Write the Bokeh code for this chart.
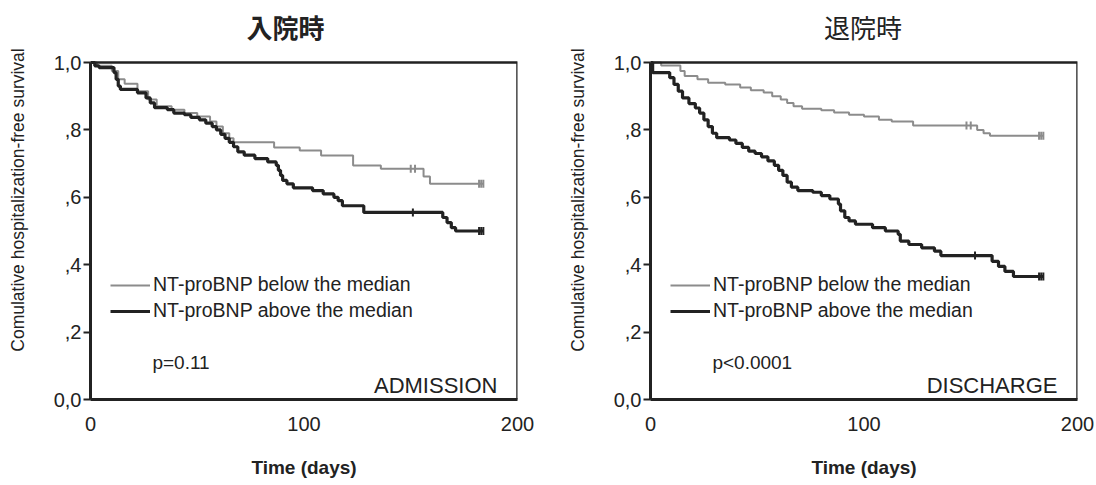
import numpy as np
from bokeh.plotting import figure
from bokeh.layouts import row
from bokeh.models import (Range1d, FixedTicker, Label, Legend, LegendItem,
                          BoxAnnotation)
from bokeh.embed import file_html
from bokeh.resources import INLINE

# Kaplan-Meier step data (days, survival probability from that day on)
adm_below_t = [0, 3, 10, 13, 16, 22, 27, 31, 38, 44, 50, 56, 59, 62, 65, 67, 86, 98, 108, 123, 136, 156, 159, 184]
adm_below_s = [1.0, 0.99, 0.975, 0.95, 0.937, 0.915, 0.89, 0.87, 0.86, 0.85, 0.84, 0.825, 0.81, 0.79, 0.775, 0.763, 0.748, 0.739, 0.724, 0.694, 0.685, 0.662, 0.64, 0.64]
adm_above_t = [0, 2, 4, 11, 12, 13, 14, 22, 26, 28, 30, 36, 39, 44, 47, 51, 54, 57, 59, 61, 63, 65, 67, 69, 72, 77, 83, 87, 88, 89, 90, 92, 95, 104, 109, 114, 116, 118, 128, 165, 167, 169, 171, 184]
adm_above_s = [1.0, 0.99, 0.985, 0.97, 0.95, 0.93, 0.92, 0.91, 0.895, 0.88, 0.866, 0.86, 0.85, 0.845, 0.837, 0.83, 0.82, 0.81, 0.80, 0.787, 0.775, 0.763, 0.75, 0.735, 0.725, 0.715, 0.705, 0.695, 0.68, 0.665, 0.65, 0.64, 0.628, 0.62, 0.61, 0.60, 0.59, 0.575, 0.555, 0.54, 0.525, 0.51, 0.50, 0.50]
adm_below_cens = [150, 152, 182, 183, 184]
adm_above_cens = [151, 182, 183, 184]

dis_below_t = [0, 5, 14, 16, 22, 27, 35, 42, 47, 53, 57, 61, 64, 67, 71, 80, 86, 93, 100, 107, 113, 123, 153, 156, 159, 184]
dis_below_s = [1.0, 0.991, 0.975, 0.96, 0.95, 0.94, 0.935, 0.926, 0.918, 0.911, 0.9, 0.89, 0.88, 0.87, 0.863, 0.858, 0.852, 0.845, 0.84, 0.83, 0.825, 0.813, 0.80, 0.79, 0.783, 0.783]
dis_above_t = [0, 1, 9, 11, 13, 15, 18, 21, 23, 25, 27, 29, 31, 37, 40, 43, 46, 49, 52, 55, 58, 60, 62, 64, 66, 69, 76, 80, 84, 88, 89, 91, 93, 96, 104, 110, 116, 117, 121, 127, 133, 136, 160, 163, 166, 170, 184]
dis_above_s = [1.0, 0.97, 0.955, 0.935, 0.915, 0.895, 0.878, 0.865, 0.85, 0.83, 0.81, 0.79, 0.777, 0.77, 0.76, 0.748, 0.737, 0.73, 0.72, 0.708, 0.695, 0.68, 0.665, 0.645, 0.63, 0.62, 0.615, 0.605, 0.595, 0.58, 0.56, 0.54, 0.53, 0.52, 0.51, 0.50, 0.49, 0.47, 0.46, 0.45, 0.44, 0.427, 0.41, 0.395, 0.38, 0.365, 0.365]
dis_below_cens = [148, 150, 182, 183, 184]
dis_above_cens = [152, 182, 183, 184]

y_ticks = [0.0, 0.2, 0.4, 0.6, 0.8, 1.0]
y_tick_labels = ["0,0", ",2", ",4", ",6", ",8", "1,0"]
x_ticks = [0, 100, 200]

FONT = "Liberation Sans"
INK = "#222222"
GRAY = "#8c8c8c"

# plot box spans 0..1 over 337 px; the frame runs to the top of the page
# so that the heading can sit above the box
BOX_PX = 337
FRAME_PX = 399
Y_TOP = FRAME_PX / BOX_PX


def surv_at(times, surv, when):
    idx = np.searchsorted(times, when, side="right") - 1
    return [surv[i] for i in idx]


def panel(title, title_bold, title_x, tag, pval,
          bt, bs, at, as_, bc, ac, left_border, right_border):
    p = figure(width=left_border + 427 + right_border, height=485,
               x_range=Range1d(0, 200), y_range=Range1d(0, Y_TOP),
               output_backend="svg", toolbar_location=None,
               min_border_left=left_border, min_border_right=right_border,
               min_border_top=0, min_border_bottom=86)
    p.grid.visible = False
    p.outline_line_color = None

    # heading
    p.add_layout(Label(x=title_x, y=1.107, text=title,
                       text_font="Noto Sans CJK JP", text_font_size="26px",
                       text_font_style="bold" if title_bold else "normal",
                       text_color=INK, text_align="center",
                       text_baseline="middle"))

    # box around the survival area (top and right sides)
    p.add_layout(BoxAnnotation(left=0, right=200, bottom=0, top=1,
                               fill_alpha=0, line_color=INK, line_alpha=1,
                               line_width=2.5))

    # axes
    p.yaxis.ticker = FixedTicker(ticks=y_ticks)
    p.yaxis.major_label_overrides = {t: l for t, l in zip(y_ticks, y_tick_labels)}
    p.yaxis.bounds = (0, 1)
    p.xaxis.ticker = FixedTicker(ticks=x_ticks)
    for ax in (p.xaxis, p.yaxis):
        ax.axis_line_width = 3
        ax.axis_line_color = INK
        ax.major_tick_line_color = INK
        ax.major_tick_line_width = 2
        ax.minor_tick_line_color = None
        ax.major_label_text_font = FONT
        ax.major_label_text_font_size = "20px"
        ax.major_label_text_color = INK
        ax.axis_label_text_font = FONT
        ax.axis_label_text_color = INK
    p.xaxis.major_tick_out = 0
    p.xaxis.major_tick_in = 0
    p.xaxis.major_label_standoff = 17
    p.xaxis.axis_label = "Time (days)"
    p.xaxis.axis_label_text_font_style = "bold"
    p.xaxis.axis_label_text_font_size = "19px"
    p.xaxis.axis_label_standoff = 23
    p.yaxis.major_tick_out = 7
    p.yaxis.major_tick_in = 0
    p.yaxis.major_label_standoff = 2
    p.yaxis.axis_label = "Comulative hospitalization-free survival"
    p.yaxis.axis_label_text_font_style = "normal"
    p.yaxis.axis_label_text_font_size = "17.5px"
    p.yaxis.axis_label_standoff = 23

    # survival curves
    r_below = p.step(bt, bs, mode="after", line_color=GRAY, line_width=2)
    r_above = p.step(at, as_, mode="after", line_color=INK, line_width=3.2)
    p.scatter(bc, surv_at(bt, bs, bc), marker="dash", angle=np.pi / 2,
              size=8, line_color=GRAY, line_width=2)
    p.scatter(ac, surv_at(at, as_, ac), marker="dash", angle=np.pi / 2,
              size=8, line_color=INK, line_width=2)

    legend = Legend(items=[
        LegendItem(label="NT-proBNP below the median", renderers=[r_below]),
        LegendItem(label="NT-proBNP above the median", renderers=[r_above]),
    ], location=(20, 77))
    legend.padding = 0
    legend.margin = 0
    legend.spacing = 3
    legend.glyph_width = 40
    legend.glyph_height = 20
    legend.label_height = 20
    legend.label_standoff = 3
    legend.label_text_font = FONT
    legend.label_text_font_size = "19.5px"
    legend.label_text_color = INK
    legend.border_line_color = None
    legend.background_fill_alpha = 0
    p.add_layout(legend)

    p.add_layout(Label(x=29, y=0.11, text=pval, text_font=FONT,
                       text_font_size="19px", text_color=INK,
                       text_baseline="middle"))
    p.add_layout(Label(x=190.6, y=0.042, text=tag, text_font=FONT,
                       text_font_size="22px", text_color=INK,
                       text_align="right", text_baseline="middle"))
    return p


p1 = panel("入院時", True, 91.3, "ADMISSION", "p=0.11",
           adm_below_t, adm_below_s, adm_above_t, adm_above_s,
           adm_below_cens, adm_above_cens, 90, 31)
p2 = panel("退院時", False, 99.5, "DISCHARGE", "p<0.0001",
           dis_below_t, dis_below_s, dis_above_t, dis_above_s,
           dis_below_cens, dis_above_cens, 102, 19)

layout = row(p1, p2)
open("out.html", "w").write(file_html(layout, INLINE))
